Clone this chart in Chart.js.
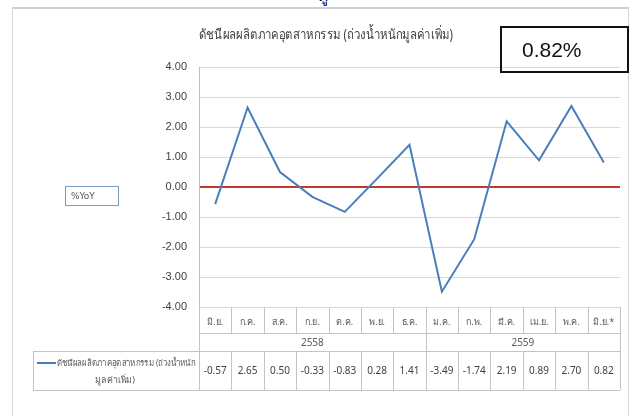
<!DOCTYPE html>
<html>
<head>
<meta charset="utf-8">
<script src="https://cdn.jsdelivr.net/npm/chart.js@4.4.1/dist/chart.umd.min.js"></script>
<style>
  html, body { margin: 0; padding: 0; background: #fff; overflow: hidden; }
  #wrap { position: relative; width: 635px; height: 416px; }
  #frame { position: absolute; left: 12px; top: 7px; width: 615px; height: 420px;
           border: 1px solid #d4d4d4; border-top: 2px solid #cfcfcf; }
  #cut { position: absolute; left: 318px; top: -17px; font: 16px Tahoma, "Noto Sans", sans-serif; color: #000; }
  canvas { position: absolute; left: 0; top: 0; }
  #yoy { position: absolute; left: 65px; top: 186px; width: 47px; height: 18px;
         border: 1.5px solid #7c9cc4; font: 9px Tahoma, "DejaVu Sans", sans-serif; color: #555;
         line-height: 18px; padding-left: 5px; box-sizing: content-box; }
  #latest { position: absolute; left: 500px; top: 26px; width: 129px; height: 47px;
            border: 2px solid #111; font: 21px "Liberation Sans", Arial, sans-serif; color: #111;
            line-height: 43px; padding-left: 20px; box-sizing: border-box; }
</style>
</head>
<body>
<div id="wrap">
  <div id="cut">ดู</div>
  <div id="frame"></div>
  <canvas id="chart" width="635" height="416"></canvas>
  <div id="yoy">%YoY</div>
  <div id="latest">0.82%</div>
</div>
<script>
/*--------------------------------------------------------------
| Data
--------------------------------------------------------------*/
const months = ["มิ.ย.", "ก.ค.", "ส.ค.", "ก.ย.", "ต.ค.", "พ.ย.", "ธ.ค.",
                "ม.ค.", "ก.พ.", "มี.ค.", "เม.ย.", "พ.ค.", "มิ.ย.*"];
const years = ["2558", "2559"];
const yearSpans = [7, 6];
const mpiValues = [-0.57, 2.65, 0.50, -0.33, -0.83, 0.28, 1.41,
                   -3.49, -1.74, 2.19, 0.89, 2.70, 0.82];
const yTicks = [-4, -3, -2, -1, 0, 1, 2, 3, 4];
const seriesName = ["ดัชนีผลผลิตภาคอุตสาหกรรม (ถ่วงน้ำหนัก", "มูลค่าเพิ่ม)"];
const chartTitle = "ดัชนีผลผลิตภาคอุตสาหกรรม (ถ่วงน้ำหนักมูลค่าเพิ่ม)";

const thaiFont = 'Tahoma, "Noto Sans", "DejaVu Sans", sans-serif';
const lineBlue = "#4a7ebb";
const tableLine = "#c4c4c4";

/*--------------------------------------------------------------
| Title (drawn narrow, like the condensed Thai face of the original)
--------------------------------------------------------------*/
const narrowTitle = {
    id: "narrowTitle",
    afterDraw(chart) {
        const ctx = chart.ctx;
        ctx.save();
        ctx.fillStyle = "#404040";
        ctx.font = "14px " + thaiFont;
        ctx.textAlign = "center";
        ctx.textBaseline = "middle";
        ctx.fillText(chartTitle, 326, 35, 254);
        ctx.restore();
    },
};

/*--------------------------------------------------------------
| Data table under the plot (categories, years, values)
--------------------------------------------------------------*/
const dataTable = {
    id: "dataTable",
    afterDraw(chart) {
        const ctx = chart.ctx;
        const x = chart.scales.x;
        const area = chart.chartArea;
        const colW = (area.right - area.left) / months.length;
        const top = area.bottom;
        const sep1 = top + 26;
        const sep2 = sep1 + 18;
        const bottom = sep2 + 39;
        const legendLeft = 33;

        ctx.save();
        ctx.strokeStyle = tableLine;
        ctx.lineWidth = 1;

        const hLine = (x1, x2, y) => {
            ctx.beginPath();
            ctx.moveTo(x1, Math.round(y) + 0.5);
            ctx.lineTo(x2, Math.round(y) + 0.5);
            ctx.stroke();
        };
        const vLine = (xx, y1, y2) => {
            ctx.beginPath();
            ctx.moveTo(Math.round(xx) + 0.5, y1);
            ctx.lineTo(Math.round(xx) + 0.5, y2);
            ctx.stroke();
        };

        // horizontal rules
        hLine(area.left, area.right, sep1);
        hLine(legendLeft, area.right, sep2);
        hLine(legendLeft, area.right, bottom);

        // month row + value row column separators
        for (let i = 0; i <= months.length; i++) {
            const cx = area.left + i * colW;
            vLine(cx, top, sep1);
            vLine(cx, sep2, bottom);
        }
        // year row separators
        let acc = 0;
        vLine(area.left, sep1, sep2);
        yearSpans.forEach((span) => {
            acc += span;
            vLine(area.left + acc * colW, sep1, sep2);
        });
        vLine(legendLeft, sep2, bottom);

        ctx.textAlign = "center";
        ctx.textBaseline = "middle";

        // month labels
        ctx.fillStyle = "#595959";
        ctx.font = "9px " + thaiFont;
        months.forEach((m, i) => {
            ctx.fillText(m, x.getPixelForValue(i), (top + sep1) / 2 + 2, colW - 6);
        });

        // year labels
        ctx.font = "10px " + thaiFont;
        let start = 0;
        years.forEach((yr, j) => {
            const a = x.getPixelForValue(start);
            const b = x.getPixelForValue(start + yearSpans[j] - 1);
            ctx.fillText(yr, (a + b) / 2, (sep1 + sep2) / 2 + 1);
            start += yearSpans[j];
        });

        // values
        ctx.fillStyle = "#404040";
        ctx.font = "10px " + thaiFont;
        mpiValues.forEach((v, i) => {
            ctx.fillText(v.toFixed(2), x.getPixelForValue(i), (sep2 + bottom) / 2 + 1);
        });

        // legend cell
        ctx.strokeStyle = lineBlue;
        ctx.lineWidth = 2;
        ctx.beginPath();
        ctx.moveTo(37, sep2 + 12);
        ctx.lineTo(56, sep2 + 12);
        ctx.stroke();
        ctx.fillStyle = "#595959";
        ctx.font = "9px " + thaiFont;
        ctx.textAlign = "left";
        ctx.fillText(seriesName[0], 57, sep2 + 12, area.left - 61);
        ctx.textAlign = "center";
        ctx.fillText(seriesName[1], 115, sep2 + 29, 40);

        ctx.restore();
    },
};

/*--------------------------------------------------------------
| Chart
--------------------------------------------------------------*/
function mpiChart() {
    const ctx = document.getElementById("chart").getContext("2d");

    const config = {
        type: "line",
        data: {
            labels: months,
            datasets: [
                {
                    label: seriesName.join(""),
                    data: mpiValues,
                    borderColor: lineBlue,
                    backgroundColor: lineBlue,
                    borderWidth: 2,
                    pointRadius: 0,
                    tension: 0,
                    fill: false,
                },
            ],
        },
        options: {
            responsive: false,
            animation: false,
            layout: { padding: { left: 0, top: 67, right: 15, bottom: 109 } },
            plugins: {
                legend: { display: false },
                tooltip: { enabled: false },
                title: { display: false },
            },
            scales: {
                x: {
                    display: false,
                    offset: true,
                },
                y: {
                    min: yTicks[0],
                    max: yTicks[yTicks.length - 1],
                    afterFit(scale) { scale.width = 199; },
                    afterBuildTicks(scale) {
                        scale.ticks = yTicks.map((v) => ({ value: v }));
                    },
                    border: { display: true, color: "#bfbfbf", width: 1 },
                    grid: {
                        drawTicks: false,
                        color: (c) => (c.tick && c.tick.value === 0 ? "#c0392b" : "#d9d9d9"),
                        lineWidth: (c) => (c.tick && c.tick.value === 0 ? 2 : 1),
                    },
                    ticks: {
                        padding: 12,
                        color: "#404040",
                        font: { family: '"Liberation Sans", Arial, sans-serif', size: 11 },
                        callback: (v) => Number(v).toFixed(2),
                    },
                },
            },
        },
        plugins: [dataTable, narrowTitle],
    };

    new Chart(ctx, config);
}

document.addEventListener("DOMContentLoaded", mpiChart);
</script>
</body>
</html>
